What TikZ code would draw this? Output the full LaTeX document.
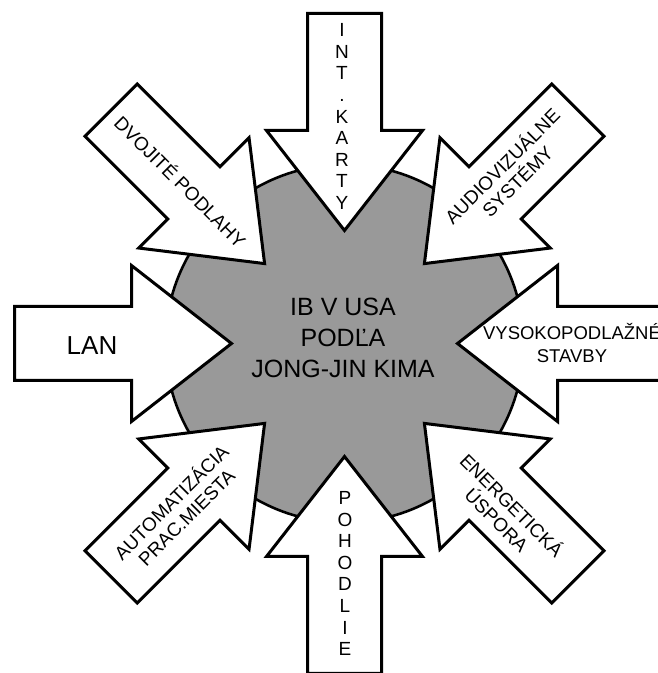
\documentclass[tikz,border=0pt]{standalone}
\usepackage{fontspec}
\setmainfont{Liberation Sans}
\definecolor{hubgray}{gray}{0.6}
% one inward-pointing arrow: tip, head shoulders, shaft to the outer end
\newcommand\spokearrow[1]{%
  \draw[inarrow, shift={(c)}, rotate=#1]
    (113,0) -- (213,78) -- (213,37) -- (330,37) -- (330,-37)
    -- (213,-37) -- (213,-78) -- cycle;}
\begin{document}
\begin{tikzpicture}[x=1pt,y=1pt,
  hub/.style={circle, draw=black, line width=2.6pt, fill=hubgray,
    minimum size=358pt, inner sep=0pt},
  inarrow/.style={draw=black, line width=3pt, fill=white, line join=miter},
  lbl/.style={font=\fontsize{19}{21.5}\selectfont, align=center, inner sep=0pt},
  stack/.style={font=\fontsize{19}{21.6}\selectfont, align=center, inner sep=0pt},
]
\useasboundingbox (0,0) rectangle (658,673);
\coordinate (c) at (344.5,329.5);

% central disc
\node[hub] (hub) at (c) {};

% the eight arrows
\foreach \a in {0,45,...,315} {\spokearrow{\a}}

% centre title
\node[font=\fontsize{25}{31}\selectfont, align=center, inner sep=0pt]
  (title) at (343,335) {IB V USA\\PODĽA\\JONG-JIN KIMA};

% arrow labels
\node[font=\fontsize{26}{30}\selectfont, inner sep=0pt] (lan) at (92,327.5) {LAN};
\node[stack] (karty) at (342,556.5) {I\\N\\T\\.\\K\\A\\R\\T\\Y};
\node[stack] (pohodlie) at (345,99.5) {P\\O\\H\\O\\D\\L\\I\\E};
\node[font=\fontsize{18.5}{23}\selectfont, align=center, inner sep=0pt]
  (stavby) at (572,330) {VYSOKOPODLAŽNÉ\\STAVBY};
\node[lbl, rotate=45] (audio) at (509,500) {AUDIOVIZUÁLNE\\SYSTÉMY};
\node[lbl, rotate=-45] (podlahy) at (181,492) {DVOJITÉ PODLAHY};
\node[lbl, rotate=45] (automat) at (178,164) {AUTOMATIZÁCIA\\PRAC.MIESTA};
\node[lbl, rotate=-45] (uspora) at (505,161) {ENERGETICKÁ\\ÚSPORA};
\end{tikzpicture}
\end{document}
